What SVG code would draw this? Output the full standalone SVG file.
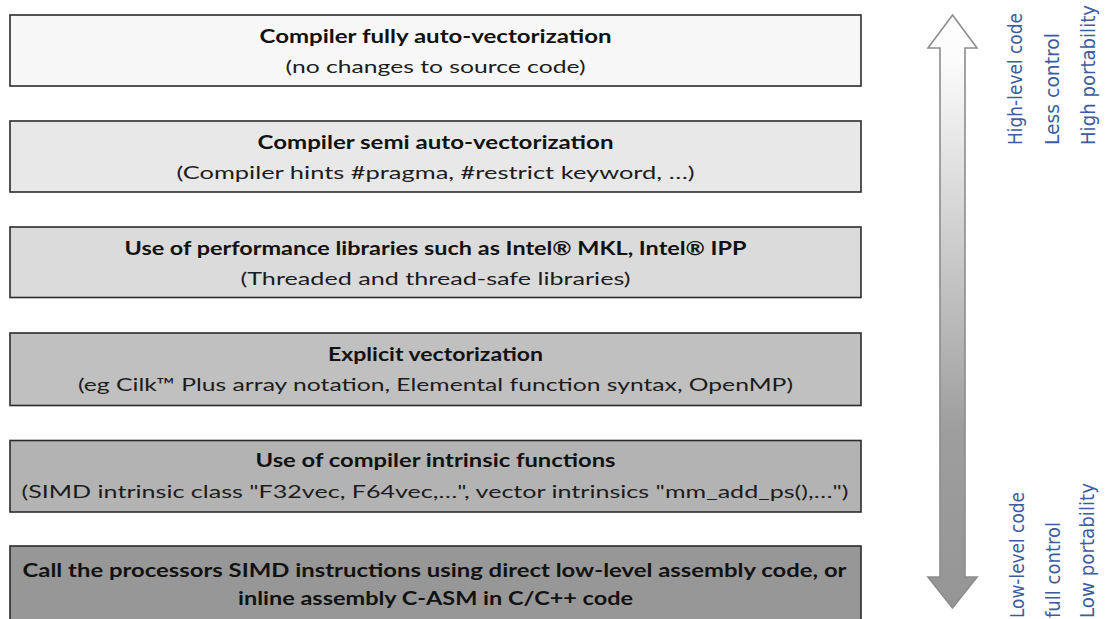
<svg xmlns="http://www.w3.org/2000/svg" width="1106" height="619" viewBox="0 0 1106 619">
  <defs>
    <linearGradient id="shaftFill" x1="0" y1="0" x2="0" y2="1">
      <stop offset="0" stop-color="#ffffff"/>
      <stop offset="0.08" stop-color="#fbfbfb"/>
      <stop offset="0.7" stop-color="#9e9e9e"/>
      <stop offset="1" stop-color="#959595"/>
    </linearGradient>
    <style>
      .box { stroke: #2b2b2b; stroke-width: 1.6; }
      .title { font-family: Lato, "Liberation Sans", sans-serif; font-weight: 700; font-size: 18px; fill: #121212; text-anchor: middle; }
      .sub { font-family: Lato, "Liberation Sans", sans-serif; font-weight: 400; font-size: 18px; fill: #1c1c1c; text-anchor: middle; }
      .note { font-family: "DejaVu Sans Condensed", "DejaVu Sans", sans-serif; font-stretch: condensed; font-size: 19px; fill: #3d5c9e; }
    </style>
  </defs>
  <rect width="1106" height="619" fill="#ffffff"/>

  <!-- vectorization approaches, from fully automatic (top) to hand-written assembly (bottom) -->
  <g id="auto-vectorization">
    <rect class="box" x="10" y="15" width="851" height="71" fill="#f7f7f7"/>
    <text class="title" x="435.5" y="43" textLength="352" lengthAdjust="spacingAndGlyphs">Compiler fully auto-vectorization</text>
    <text class="sub" x="435.5" y="73" textLength="300" lengthAdjust="spacingAndGlyphs">(no changes to source code)</text>
  </g>

  <g id="semi-auto-vectorization">
    <rect class="box" x="10" y="121" width="851" height="71" fill="#e8e8e8"/>
    <text class="title" x="435.5" y="149" textLength="356" lengthAdjust="spacingAndGlyphs">Compiler semi auto-vectorization</text>
    <text class="sub" x="435.5" y="179" textLength="518" lengthAdjust="spacingAndGlyphs">(Compiler hints #pragma, #restrict keyword, …)</text>
  </g>

  <g id="performance-libraries">
    <rect class="box" x="10" y="227" width="851" height="70.5" fill="#dbdbdb"/>
    <text class="title" x="435.5" y="255" textLength="622" lengthAdjust="spacingAndGlyphs">Use of performance libraries such as Intel® MKL, Intel® IPP</text>
    <text class="sub" x="435.5" y="285" textLength="390" lengthAdjust="spacingAndGlyphs">(Threaded and thread-safe libraries)</text>
  </g>

  <g id="explicit-vectorization">
    <rect class="box" x="10" y="333" width="851" height="72.5" fill="#c0c0c0"/>
    <text class="title" x="435.5" y="361" textLength="215" lengthAdjust="spacingAndGlyphs">Explicit vectorization</text>
    <text class="sub" x="435.5" y="391" textLength="715" lengthAdjust="spacingAndGlyphs">(eg Cilk™ Plus array notation, Elemental function syntax, OpenMP)</text>
  </g>

  <g id="intrinsics">
    <rect class="box" x="10" y="440.5" width="851" height="71.5" fill="#b3b3b3"/>
    <text class="title" x="435.5" y="467" textLength="360" lengthAdjust="spacingAndGlyphs">Use of compiler intrinsic functions</text>
    <text class="sub" x="435" y="498" textLength="827" lengthAdjust="spacingAndGlyphs">(SIMD intrinsic class "F32vec, F64vec,…", vector intrinsics "mm_add_ps(),…")</text>
  </g>

  <g id="assembly">
    <rect class="box" x="10" y="546" width="851" height="80" fill="#979797"/>
    <text class="title" x="434.5" y="577" textLength="824" lengthAdjust="spacingAndGlyphs">Call the processors SIMD instructions using direct low-level assembly code, or</text>
    <text class="title" x="435.5" y="605" textLength="395" lengthAdjust="spacingAndGlyphs">inline assembly C-ASM in C/C++ code</text>
  </g>

  <!-- double-headed scale arrow -->
  <g id="connectors">
    <path d="M952.5,15 L977,48 L965,48 L965,577 L977,577 L952.5,608 L928,577 L940,577 L940,48 L928,48 Z"
          fill="url(#shaftFill)" stroke="#8c8c8c" stroke-width="1.6" stroke-linejoin="miter"/>
  </g>

  <!-- scale labels -->
  <g id="high-level-labels">
    <text class="note" transform="translate(1022,145) rotate(-90)" textLength="132" lengthAdjust="spacingAndGlyphs">High-level code</text>
    <text class="note" transform="translate(1059,145) rotate(-90)" textLength="112" lengthAdjust="spacingAndGlyphs">Less control</text>
    <text class="note" transform="translate(1095,145) rotate(-90)" textLength="140" lengthAdjust="spacingAndGlyphs">High portability</text>
  </g>

  <g id="low-level-labels">
    <text class="note" transform="translate(1024,618) rotate(-90)" textLength="126" lengthAdjust="spacingAndGlyphs">Low-level code</text>
    <text class="note" transform="translate(1060,618) rotate(-90)" textLength="96" lengthAdjust="spacingAndGlyphs">full control</text>
    <text class="note" transform="translate(1094,618) rotate(-90)" textLength="135" lengthAdjust="spacingAndGlyphs">Low portability</text>
  </g>
</svg>
